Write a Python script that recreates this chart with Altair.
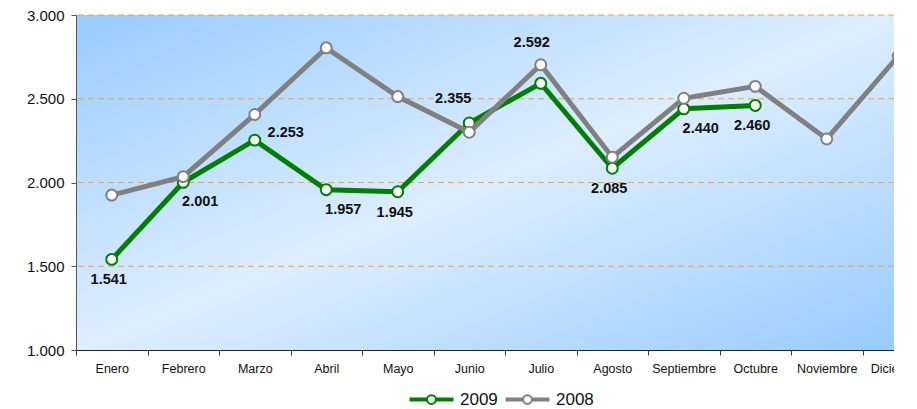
import altair as alt
import pandas as pd

meses = ["Enero", "Febrero", "Marzo", "Abril", "Mayo", "Junio", "Julio",
         "Agosto", "Septiembre", "Octubre", "Noviembre", "Diciembre"]
v2009 = [1541, 2001, 2253, 1957, 1945, 2355, 2592, 2085, 2440, 2460, None, None]
v2008 = [1925, 2035, 2406, 2804, 2513, 2300, 2703, 2151, 2503, 2574, 2260, 2755]
# placement of the value labels of 2009
pos_etiqueta = ["abajo", "abajo_der", "derecha", "abajo_der", "abajo", "arriba_izq",
                "arriba", "abajo", "abajo_der", "abajo", None, None]
series = ["2009", "2008"]
colores = ["#008000", "#808080"]
y_ticks = [1000, 1500, 2000, 2500, 3000]

rows = []
for m, a, b, p in zip(meses, v2009, v2008, pos_etiqueta):
    if a is not None:
        rows.append({"mes": m, "serie": "2009", "valor": a, "pos": p})
    rows.append({"mes": m, "serie": "2008", "valor": b, "pos": None})
df = pd.DataFrame(rows)

FONT = "Liberation Sans"

x = alt.X("mes:N", sort=meses,
          scale=alt.Scale(type="band", domain=meses, range=[0, 858],
                          paddingInner=0, paddingOuter=0),
          axis=alt.Axis(title=None, labelAngle=0, tickBand="extent", tickSize=5,
                        labelFontSize=12.5, labelPadding=7, labelColor="#111",
                        domainColor="#222", tickColor="#333", grid=False, zindex=1))
yscale = alt.Scale(domain=[1000, 3000], nice=False, zero=False)
y = alt.Y("valor:Q", scale=yscale,
          axis=alt.Axis(title=None, values=y_ticks, tickSize=5, labelFontSize=15,
                        labelPadding=7, labelColor="#111",
                        labelExpr="replace(format(datum.value, ','), ',', '.')",
                        domainColor="#555", tickColor="#555", grid=False, zindex=1))

sym = ("M-2,-0.1H-0.42V0.1H-2Z M0.42,-0.1H2V0.1H0.42Z "
       "M-0.42,0A0.42,0.42,0,1,1,0.42,0A0.42,0.42,0,1,1,-0.42,0Z")

stroke = alt.Stroke("serie:N",
                    scale=alt.Scale(domain=series, range=colores),
                    legend=alt.Legend(title=None, orient="none", legendX=344, legendY=373,
                                      direction="horizontal", symbolType=sym,
                                      symbolSize=441, symbolStrokeWidth=2,
                                      symbolFillColor="white", symbolOpacity=1,
                                      labelFontSize=17, labelOffset=17,
                                      columnPadding=4, labelColor="#111"))

gradiente = alt.LinearGradient(gradient="linear", x1=0, y1=0, x2=1, y2=1,
                               stops=[alt.GradientStop(offset=0, color="#98CBFF"),
                                      alt.GradientStop(offset=0.5, color="#DDEEFF"),
                                      alt.GradientStop(offset=1, color="#98CBFF")])
fondo = alt.Chart(pd.DataFrame({"k": [0]})).mark_rect(color=gradiente).encode(
    x=alt.value(0), x2=alt.value("width"), y=alt.value(0), y2=alt.value("height"))

rejilla = alt.Chart(pd.DataFrame({"valor": y_ticks[1:]})).mark_rule(
    color="#F2A43A", strokeDash=[6, 4], strokeWidth=1).encode(y=y)

base = alt.Chart(df)
layers = [fondo, rejilla]
for s in ["2009", "2008"]:
    d = base.transform_filter(alt.datum.serie == s)
    layers.append(d.mark_line(strokeWidth=5).encode(x=x, y=y, stroke=stroke))
    layers.append(d.mark_point(shape="circle", size=120, strokeWidth=2, fill="white",
                               fillOpacity=1, opacity=1, filled=False)
                  .encode(x=x, y=y, stroke=stroke))

offsets = {
    "abajo": (-3, 21),
    "abajo_der": (17, 20),
    "derecha": (31, -7),
    "arriba_izq": (-16, -24),
    "arriba": (-9, -40),
}
for p, (dx, dy) in offsets.items():
    layers.append(
        base.transform_filter(alt.datum.pos == p)
        .transform_calculate(txt="replace(format(datum.valor, ','), ',', '.')")
        .mark_text(fontSize=14.5, fontWeight="bold", color="#111", dx=dx, dy=dy,
                   align="center", baseline="middle")
        .encode(x=x, y=y, text="txt:N")
    )

chart = alt.layer(*layers).properties(
    width=818, height=335,
    autosize=alt.AutoSizeParams(type="none"),
    padding={"left": 68, "top": 7, "right": 0, "bottom": 59},
).configure(font=FONT).configure_view(stroke="transparent")

chart.save("out.html", embed_options={"renderer": "svg", "actions": False})
